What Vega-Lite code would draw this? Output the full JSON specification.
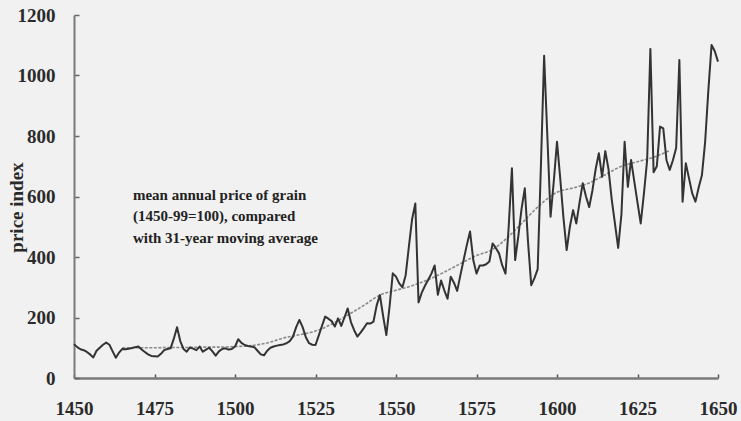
{
  "$schema": "https://vega.github.io/schema/vega-lite/v6.json",
  "width": 644,
  "height": 363,
  "autosize": "none",
  "padding": {"left": 74, "top": 15, "right": 23, "bottom": 43},
  "background": "#f1f1f1",
  "config": {"view": {"stroke": null}, "font": "Liberation Serif"},
  "datasets": {
    "price": [
      {"year":1450,"price":112},{"year":1451,"price":102},{"year":1452,"price":95},{"year":1453,"price":92},{"year":1454,"price":86},{"year":1455,"price":78},{"year":1456,"price":68},{"year":1457,"price":90},{"year":1458,"price":100},{"year":1459,"price":110},
      {"year":1460,"price":117},{"year":1461,"price":110},{"year":1462,"price":88},{"year":1463,"price":67},{"year":1464,"price":84},{"year":1465,"price":96},{"year":1466,"price":95},{"year":1467,"price":97},{"year":1468,"price":99},{"year":1469,"price":102},
      {"year":1470,"price":104},{"year":1471,"price":94},{"year":1472,"price":86},{"year":1473,"price":78},{"year":1474,"price":73},{"year":1475,"price":72},{"year":1476,"price":71},{"year":1477,"price":80},{"year":1478,"price":92},{"year":1479,"price":96},
      {"year":1480,"price":98},{"year":1481,"price":130},{"year":1482,"price":168},{"year":1483,"price":122},{"year":1484,"price":96},{"year":1485,"price":87},{"year":1486,"price":101},{"year":1487,"price":97},{"year":1488,"price":92},{"year":1489,"price":104},
      {"year":1490,"price":87},{"year":1491,"price":94},{"year":1492,"price":100},{"year":1493,"price":88},{"year":1494,"price":74},{"year":1495,"price":88},{"year":1496,"price":96},{"year":1497,"price":98},{"year":1498,"price":94},{"year":1499,"price":96},
      {"year":1500,"price":104},{"year":1501,"price":128},{"year":1502,"price":116},{"year":1503,"price":109},{"year":1504,"price":106},{"year":1505,"price":104},{"year":1506,"price":102},{"year":1507,"price":90},{"year":1508,"price":78},{"year":1509,"price":75},
      {"year":1510,"price":90},{"year":1511,"price":100},{"year":1512,"price":104},{"year":1513,"price":107},{"year":1514,"price":109},{"year":1515,"price":111},{"year":1516,"price":115},{"year":1517,"price":122},{"year":1518,"price":137},{"year":1519,"price":168},
      {"year":1520,"price":192},{"year":1521,"price":168},{"year":1522,"price":135},{"year":1523,"price":115},{"year":1524,"price":110},{"year":1525,"price":109},{"year":1526,"price":140},{"year":1527,"price":172},{"year":1528,"price":203},{"year":1529,"price":196},
      {"year":1530,"price":188},{"year":1531,"price":170},{"year":1532,"price":197},{"year":1533,"price":172},{"year":1534,"price":200},{"year":1535,"price":230},{"year":1536,"price":185},{"year":1537,"price":158},{"year":1538,"price":137},{"year":1539,"price":150},
      {"year":1540,"price":165},{"year":1541,"price":181},{"year":1542,"price":180},{"year":1543,"price":186},{"year":1544,"price":240},{"year":1545,"price":274},{"year":1546,"price":205},{"year":1547,"price":142},{"year":1548,"price":236},{"year":1549,"price":346},
      {"year":1550,"price":335},{"year":1551,"price":313},{"year":1552,"price":300},{"year":1553,"price":340},{"year":1554,"price":434},{"year":1555,"price":525},{"year":1556,"price":577},{"year":1557,"price":250},{"year":1558,"price":282},{"year":1559,"price":305},
      {"year":1560,"price":325},{"year":1561,"price":345},{"year":1562,"price":372},{"year":1563,"price":275},{"year":1564,"price":322},{"year":1565,"price":290},{"year":1566,"price":262},{"year":1567,"price":335},{"year":1568,"price":315},{"year":1569,"price":288},
      {"year":1570,"price":340},{"year":1571,"price":390},{"year":1572,"price":440},{"year":1573,"price":484},{"year":1574,"price":390},{"year":1575,"price":345},{"year":1576,"price":372},{"year":1577,"price":372},{"year":1578,"price":376},{"year":1579,"price":385},
      {"year":1580,"price":445},{"year":1581,"price":430},{"year":1582,"price":412},{"year":1583,"price":372},{"year":1584,"price":345},{"year":1585,"price":500},{"year":1586,"price":693},{"year":1587,"price":390},{"year":1588,"price":470},{"year":1589,"price":560},
      {"year":1590,"price":627},{"year":1591,"price":450},{"year":1592,"price":307},{"year":1593,"price":330},{"year":1594,"price":360},{"year":1595,"price":700},{"year":1596,"price":1065},{"year":1597,"price":800},{"year":1598,"price":533},{"year":1599,"price":650},
      {"year":1600,"price":781},{"year":1601,"price":660},{"year":1602,"price":530},{"year":1603,"price":423},{"year":1604,"price":500},{"year":1605,"price":555},{"year":1606,"price":511},{"year":1607,"price":580},{"year":1608,"price":644},{"year":1609,"price":600},
      {"year":1610,"price":565},{"year":1611,"price":620},{"year":1612,"price":690},{"year":1613,"price":743},{"year":1614,"price":665},{"year":1615,"price":750},{"year":1616,"price":690},{"year":1617,"price":590},{"year":1618,"price":510},{"year":1619,"price":430},
      {"year":1620,"price":540},{"year":1621,"price":781},{"year":1622,"price":632},{"year":1623,"price":721},{"year":1624,"price":650},{"year":1625,"price":580},{"year":1626,"price":511},{"year":1627,"price":610},{"year":1628,"price":721},{"year":1629,"price":1088},
      {"year":1630,"price":680},{"year":1631,"price":700},{"year":1632,"price":831},{"year":1633,"price":825},{"year":1634,"price":720},{"year":1635,"price":688},{"year":1636,"price":720},{"year":1637,"price":760},{"year":1638,"price":1051},{"year":1639,"price":583},
      {"year":1640,"price":710},{"year":1641,"price":660},{"year":1642,"price":610},{"year":1643,"price":583},{"year":1644,"price":630},{"year":1645,"price":670},{"year":1646,"price":780},{"year":1647,"price":950},{"year":1648,"price":1101},{"year":1649,"price":1080},
      {"year":1650,"price":1046}
    ],
    "average": [
      {"year":1465,"price":100},{"year":1470,"price":100},{"year":1475,"price":100},{"year":1480,"price":101},{"year":1485,"price":101},{"year":1490,"price":102},{"year":1495,"price":102},{"year":1500,"price":104},{"year":1505,"price":107},{"year":1510,"price":116},
      {"year":1515,"price":132},{"year":1520,"price":143},{"year":1525,"price":155},{"year":1530,"price":178},{"year":1535,"price":208},{"year":1540,"price":240},{"year":1545,"price":274},{"year":1550,"price":290},{"year":1555,"price":305},{"year":1560,"price":325},
      {"year":1565,"price":350},{"year":1570,"price":378},{"year":1575,"price":405},{"year":1580,"price":425},{"year":1585,"price":468},{"year":1590,"price":522},{"year":1595,"price":575},{"year":1600,"price":614},{"year":1605,"price":628},{"year":1610,"price":645},
      {"year":1615,"price":672},{"year":1620,"price":700},{"year":1625,"price":715},{"year":1630,"price":730},{"year":1635,"price":752}
    ]
  },
  "layer": [
    {
      "data": {"name": "average"},
      "mark": {"type": "line", "color": "#8a8a8a", "strokeWidth": 1.6, "strokeDash": [3, 1.5], "interpolate": "monotone"},
      "encoding": {
        "x": {
          "field": "year", "type": "quantitative",
          "scale": {"domain": [1450, 1650], "nice": false, "zero": false},
          "axis": {
            "title": null, "values": [1450,1475,1500,1525,1550,1575,1600,1625,1650], "format": "d",
            "grid": false, "domainColor": "#7a7a7a", "domainWidth": 2.5,
            "ticks": true, "tickSize": -4, "tickColor": "#555", "tickWidth": 1.5,
            "labelPadding": 34, "labelFont": "Liberation Serif", "labelFontSize": 19, "labelFontWeight": "bold",
            "labelColor": "#2a2a2a", "labelFlush": false, "labelBaseline": "middle"
          }
        },
        "y": {
          "field": "price", "type": "quantitative",
          "scale": {"domain": [0, 1200], "nice": false},
          "axis": {
            "title": "price index", "values": [0,200,400,600,800,1000,1200], "format": "d",
            "grid": false, "domainColor": "#7a7a7a", "domainWidth": 2,
            "ticks": true, "tickSize": -5, "tickColor": "#666", "tickWidth": 1.5,
            "labelPadding": 24, "labelFont": "Liberation Serif", "labelFontSize": 19, "labelFontWeight": "bold",
            "labelColor": "#2a2a2a", "labelFlush": false,
            "titleFont": "Liberation Serif", "titleFontSize": 19, "titleFontWeight": "bold", "titleColor": "#2a2a2a",
            "titleAngle": -90, "titleX": -58, "titleY": 192, "titleAlign": "center", "titleBaseline": "middle"
          }
        }
      }
    },
    {
      "data": {"name": "price"},
      "mark": {"type": "line", "color": "#333333", "strokeWidth": 2, "strokeJoin": "round"},
      "encoding": {
        "x": {"field": "year", "type": "quantitative"},
        "y": {"field": "price", "type": "quantitative"}
      }
    },
    {
      "data": {"values": [{"note": "mean annual price of grain"}]},
      "mark": {"type": "text", "align": "left", "baseline": "middle", "font": "Liberation Serif", "fontSize": 15, "fontWeight": "bold", "color": "#222"},
      "encoding": {
        "x": {"datum": 1468.3, "type": "quantitative"},
        "y": {"datum": 605, "type": "quantitative"},
        "text": {"field": "note"}
      }
    },
    {
      "data": {"values": [{"note": "(1450-99=100), compared"}]},
      "mark": {"type": "text", "align": "left", "baseline": "middle", "font": "Liberation Serif", "fontSize": 15, "fontWeight": "bold", "color": "#222"},
      "encoding": {
        "x": {"datum": 1468.3, "type": "quantitative"},
        "y": {"datum": 535, "type": "quantitative"},
        "text": {"field": "note"}
      }
    },
    {
      "data": {"values": [{"note": "with 31-year moving average"}]},
      "mark": {"type": "text", "align": "left", "baseline": "middle", "font": "Liberation Serif", "fontSize": 15, "fontWeight": "bold", "color": "#222"},
      "encoding": {
        "x": {"datum": 1468.3, "type": "quantitative"},
        "y": {"datum": 463, "type": "quantitative"},
        "text": {"field": "note"}
      }
    }
  ]
}
